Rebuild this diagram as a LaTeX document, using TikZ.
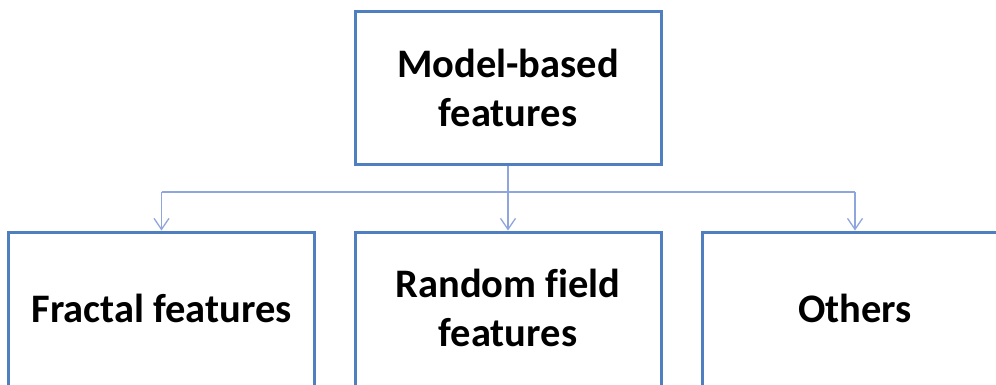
\documentclass[tikz,border=0pt]{standalone}
\usepackage{fontspec}
\setmainfont{Carlito}[Ligatures=CommonOff]
\usetikzlibrary{arrows.meta}
\definecolor{boxblue}{HTML}{4F7FBE}
\definecolor{linkblue}{HTML}{8EA5DE}
\tikzset{
  lbl/.style={font=\fontsize{40.5}{48.5}\selectfont\bfseries, align=center},
  box/.style={draw=boxblue, line width=3pt, fill=white, minimum width=306pt, minimum height=152pt, inner sep=0pt, lbl},
  lowbox/.style={box, minimum height=160pt},
  conn/.style={draw=linkblue, line width=1.5pt},
  tip/.style={-{Straight Barb[length=11pt,width=15pt,line width=1.3pt]}}
}
\begin{document}
\begin{tikzpicture}[x=1pt,y=1pt]
\useasboundingbox (0,0) rectangle (996,384);
\clip (0,0) rectangle (996,384);
\node[box] (top) at (508,296) {Model-based\\features};
\node[lowbox, label={[lbl, yshift=4pt]center:Fractal features}] (f1) at (161.5,72) {};
\node[lowbox, label={[lbl, yshift=4pt]center:Random field\\features}] (f2) at (508,72) {};
\node[lowbox, label={[lbl, yshift=4pt]center:Others}] (f3) at (855,72) {};
\coordinate (j) at (508,192);
\draw[conn] (top.south) -- (j);
\draw[conn] (f1.north |- j) -- (f3.north |- j);
\draw[conn,tip] (f1.north |- j) -- (f1.north);
\draw[conn,tip] (j) -- (f2.north);
\draw[conn,tip] (f3.north |- j) -- (f3.north);
\end{tikzpicture}
\end{document}
